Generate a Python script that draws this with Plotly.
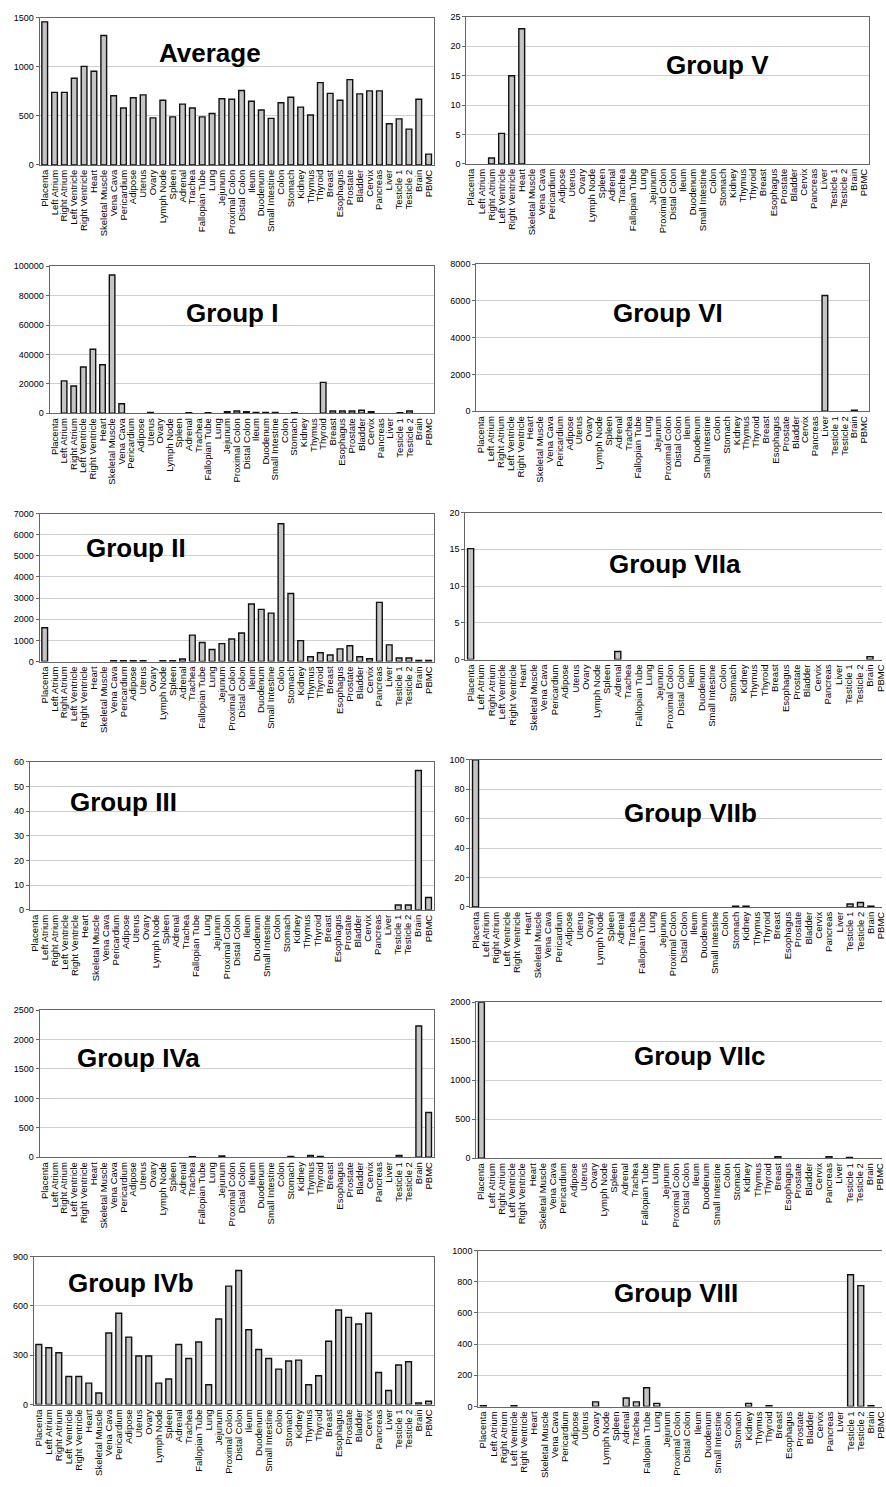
import plotly.graph_objects as go

W, H = 886, 1487

tissues = ["Placenta", "Left Atrium", "Right Atrium", "Left Ventricle", "Right Ventricle",
           "Heart", "Skeletal Muscle", "Vena Cava", "Pericardium", "Adipose", "Uterus",
           "Ovary", "Lymph Node", "Spleen", "Adrenal", "Trachea", "Fallopian Tube", "Lung",
           "Jejunum", "Proximal Colon", "Distal Colon", "Ileum", "Duodenum", "Small Intestine",
           "Colon", "Stomach", "Kidney", "Thymus", "Thyroid", "Breast", "Esophagus", "Prostate",
           "Bladder", "Cervix", "Pancreas", "Liver", "Testicle 1", "Testicle 2", "Brain", "PBMC"]

average = [1460, 740, 740, 885, 1005, 955, 1320, 705, 580, 685, 715, 480, 660, 490, 620, 580,
           490, 525, 675, 670, 760, 650, 560, 475, 635, 690, 590, 510, 840, 730, 660, 870, 725,
           755, 755, 420, 470, 365, 670, 110]

group_ii = [1600, 0, 0, 0, 0, 0, 0, 40, 40, 40, 40, 0, 40, 40, 120, 1250, 900, 570, 850, 1070,
            1350, 2720, 2470, 2290, 6520, 3220, 990, 230, 420, 310, 600, 750, 230, 130, 2800,
            790, 170, 170, 50, 50]

group_ivb = [365, 345, 315, 170, 170, 130, 70, 435, 555, 410, 295, 295, 130, 155, 365, 280, 380,
             120, 520, 720, 815, 455, 335, 280, 215, 265, 270, 120, 175, 385, 575, 530, 490, 555,
             195, 85, 240, 260, 10, 20]

# sparse groups: only non-zero tissues listed
group_v = {"Right Atrium": 1, "Left Ventricle": 5.2, "Right Ventricle": 15, "Heart": 23}
group_i = {"Left Atrium": 22000, "Right Atrium": 18500, "Left Ventricle": 31500,
           "Right Ventricle": 43500, "Heart": 33000, "Skeletal Muscle": 94000, "Vena Cava": 6500,
           "Uterus": 500, "Adrenal": 400, "Fallopian Tube": 400, "Jejunum": 1000,
           "Proximal Colon": 1500, "Distal Colon": 1000, "Ileum": 600, "Duodenum": 500,
           "Small Intestine": 500, "Stomach": 400, "Thyroid": 21000, "Breast": 1500,
           "Esophagus": 1500, "Prostate": 1500, "Bladder": 2000, "Cervix": 1000,
           "Testicle 1": 400, "Testicle 2": 1500}
group_vi = {"Liver": 6300, "Brain": 60}
group_viia = {"Placenta": 15.1, "Adrenal": 1.1, "Brain": 0.4}
group_iii = {"Testicle 1": 2, "Testicle 2": 2, "Brain": 56.5, "PBMC": 5}
group_viib = {"Placenta": 100, "Stomach": 0.5, "Kidney": 0.5, "Testicle 1": 2, "Testicle 2": 3,
              "Brain": 0.5}
group_iva = {"Trachea": 10, "Jejunum": 20, "Stomach": 12, "Thymus": 30, "Thyroid": 12,
             "Testicle 1": 30, "Brain": 2230, "PBMC": 760}
group_viic = {"Placenta": 2000, "Breast": 20, "Pancreas": 20, "Testicle 1": 10}
group_viii = {"Placenta": 5, "Left Ventricle": 5, "Ovary": 30, "Adrenal": 55, "Trachea": 30,
              "Fallopian Tube": 120, "Lung": 20, "Kidney": 20, "Thyroid": 5, "Testicle 1": 845,
              "Testicle 2": 775, "Brain": 5}


def full(d):
    return [d.get(t, 0) for t in tissues]


titles = ["Average", "Group V", "Group I", "Group VI", "Group II", "Group VIIa", "Group III",
          "Group VIIb", "Group IVa", "Group VIIc", "Group IVb", "Group VIII"]
series = [average, full(group_v), full(group_i), full(group_vi), group_ii, full(group_viia),
          full(group_iii), full(group_viib), full(group_iva), full(group_viic), group_ivb,
          full(group_viii)]
ymax = [1500, 25, 100000, 8000, 7000, 20, 60, 100, 2500, 2000, 900, 1000]
ydtick = [500, 5, 20000, 2000, 1000, 5, 10, 20, 500, 500, 300, 200]

# layout: plot-area box in pixels (left, right, top, bottom), x range end, title centre
boxes = [(39, 435, 13, 161), (468, 873, 12, 160), (49, 435, 263, 411), (478, 873, 261, 409),
         (39, 435, 512, 661), (467, 886, 511, 659), (29, 435, 762, 911), (472, 886, 760, 908),
         (39, 435, 1012, 1160), (478, 886, 1004, 1161), (33, 435, 1260, 1409),
         (480, 886, 1254, 1411)]
xend = [39.5, 39.5, 39.5, 39.5, 39.5, 39.14, 39.5, 39.07, 39.5, 39.18, 39.5, 39.08]
tpos = [(210, 48), (721, 60), (232, 310), (671, 310), (136, 547), (678, 563), (123, 802),
        (693, 813), (138, 1060), (702, 1058), (131, 1287), (679, 1297)]

fig = go.Figure()
FONT = "Liberation Sans, Arial, sans-serif"
annotations = []
for i in range(12):
    n = i + 1
    sfx = "" if n == 1 else str(n)
    # zero values are not drawn at all (no outline on the baseline)
    yvals = [v if v else None for v in series[i]]
    fig.add_trace(go.Bar(
        x=tissues, y=yvals, xaxis="x" + sfx, yaxis="y" + sfx,
        marker=dict(color="#c4c4c4", line=dict(color="#111111", width=1.4)),
        showlegend=False, cliponaxis=True))
    l, r, t, b = boxes[i]
    cut = xend[i] < 39.5
    fig.layout["xaxis" + sfx] = dict(
        domain=[l / W, r / W], anchor="y" + sfx, type="category",
        range=[-0.5, xend[i]], tickmode="array", tickvals=tissues, ticktext=tissues,
        tickangle=-90, tickfont=dict(family=FONT, size=9.5, color="#000"),
        showline=True, linecolor="#666", linewidth=1.2, mirror=True,
        showgrid=False, ticks="", fixedrange=True)
    fig.layout["yaxis" + sfx] = dict(
        domain=[1 - b / H, 1 - t / H], anchor="x" + sfx, range=[0, ymax[i]],
        tickmode="linear", tick0=0, dtick=ydtick[i], tickformat="d",
        tickfont=dict(family=FONT, size=9, color="#000"),
        showline=True, linecolor="#666", linewidth=1.2, mirror=(not cut),
        showgrid=True, gridcolor="#cfcfcf", gridwidth=1, zeroline=False,
        ticks="outside", ticklen=3, tickcolor="#666", fixedrange=True)
    cx, cy = tpos[i]
    annotations.append(dict(
        text="<b>" + titles[i] + "</b>", x=cx / W, y=1 - cy / H, xref="paper", yref="paper",
        xanchor="center", yanchor="middle", showarrow=False,
        font=dict(family=FONT, size=26, color="#000")))

fig.update_layout(
    width=W, height=H, margin=dict(l=0, r=0, t=0, b=0),
    paper_bgcolor="white", plot_bgcolor="white", bargap=0.42,
    annotations=annotations, showlegend=False)

fig.write_html("out.html", config={"displayModeBar": False},
               post_script="document.body.style.margin='0';document.body.style.overflow='hidden';")
